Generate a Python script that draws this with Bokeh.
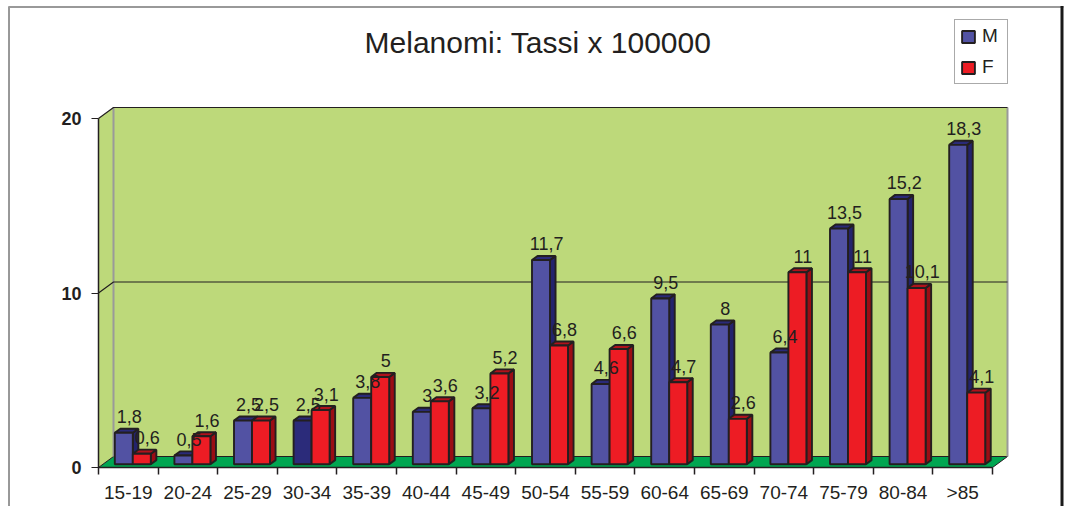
import numpy as np
from bokeh.plotting import figure
from bokeh.models import Range1d, FixedTicker, Label, Legend, LegendItem
from bokeh.core.properties import value
from bokeh.embed import file_html
from bokeh.resources import INLINE

# ---- data ----
categories = ["15-19", "20-24", "25-29", "30-34", "35-39", "40-44", "45-49", "50-54",
              "55-59", "60-64", "65-69", "70-74", "75-79", "80-84", ">85"]
male = [1.8, 0.5, 2.5, 2.5, 3.8, 3, 3.2, 11.7, 4.6, 9.5, 8, 6.4, 13.5, 15.2, 18.3]
female = [0.6, 1.6, 2.5, 3.1, 5, 3.6, 5.2, 6.8, 6.6, 4.7, 2.6, 11, 11, 10.1, 4.1]
series_names = ["M", "F"]
y_ticks = [0, 10, 20]
title_text = "Melanomi: Tassi x 100000"

# ---- styles ----
FONT = "Liberation Sans"
DARK = "#231F20"
WALL = "#BDD97A"
FLOOR = "#00A651"
M_FRONT = ["#5252A3"] * len(categories)
M_FRONT[3] = "#2B2B7A"
M_TOP, M_SIDE = "#2A2A78", "#23236C"
F_FRONT, F_TOP, F_SIDE = "#ED1C24", "#B0121B", "#9B0D14"

W, H = 1067, 506
PX, PY = 59.6, 17.45          # pixels per category / per unit
LEFT_PX, ZERO_PX = 98, 467    # canvas position of the front-left corner / zero line
DX, DY = 15 / PX, 11 / PY     # depth of the 3D box in data units
D0, D1 = 0.30, 0.67           # bar depth (front / back fraction)
BW = 0.302                    # bar width
n = len(categories)
x0, x1 = -0.5, n - 0.5
ymax = max(y_ticks)

xs0 = x0 - LEFT_PX / PX
ys0 = -(H - ZERO_PX) / PY


def sx(px):
    return xs0 + px / PX


def sy(py):
    return ys0 + (H - py) / PY


p = figure(width=W, height=H, output_backend="svg", toolbar_location=None,
           x_range=Range1d(xs0, sx(W)), y_range=Range1d(ys0, sy(0)),
           min_border=0)
p.outline_line_color = None
p.xgrid.visible = False
p.ygrid.visible = False
p.background_fill_color = "white"

# outer frame of the chart area
p.line([sx(8.5), sx(8.5)], [sy(H), sy(6)], line_color="#333333", line_width=1)
p.line([sx(8), sx(1063)], [sy(6.5), sy(6.5)], line_color="#999999", line_width=2)
p.line([sx(1061.5), sx(1061.5)], [sy(H), sy(5.5)], line_color="#1a1a1a", line_width=3)

# walls and floor
p.quad(left=x0 + DX, right=x1 + DX, bottom=DY, top=ymax + DY, fill_color=WALL, line_color=None)
p.patch([x0, x0, x0 + DX, x0 + DX], [0, ymax, ymax + DY, DY], fill_color=WALL, line_color=None)
p.patch([x0, x1, x1 + DX, x0 + DX], [0, 0, DY, DY], fill_color=FLOOR, line_color=DARK, line_width=1)
p.segment(x0=[x0 + DX, x1 + DX], y0=[DY, DY], x1=[x0 + DX, x1 + DX], y1=[ymax + DY, ymax + DY],
          line_color="#9a9a9a", line_width=2)
for t in y_ticks[1:]:
    p.line([x0, x0 + DX, x1 + DX], [t, t + DY, t + DY], line_color=DARK, line_width=1.2)

# bars
idx = np.arange(n)
ox, oy = D0 * DX, D0 * DY
bdx, bdy = (D1 - D0) * DX, (D1 - D0) * DY
centers = idx + ox
renderers = []
for vals, off, front, top_c, side_c in [(male, -BW, M_FRONT, M_TOP, M_SIDE),
                                        (female, 0.0, F_FRONT, F_TOP, F_SIDE)]:
    v = np.array(vals, dtype=float)
    l = centers + off
    r = l + BW
    t = v + oy
    side_xs = [[ri, ri, ri + bdx, ri + bdx] for ri in r]
    side_ys = [[oy, ti, ti + bdy, oy + bdy] for ti in t]
    top_xs = [[li, ri, ri + bdx, li + bdx] for li, ri in zip(l, r)]
    top_ys = [[ti, ti, ti + bdy, ti + bdy] for ti in t]
    p.patches(side_xs, side_ys, fill_color=side_c, line_color=DARK, line_width=1.9)
    p.patches(top_xs, top_ys, fill_color=top_c, line_color=DARK, line_width=1.9)
    rr = p.quad(left=l, right=r, bottom=oy, top=t, fill_color=front, line_color=DARK, line_width=1.9)
    renderers.append(rr)

# value labels
def fmt(x):
    return str(int(x)) if float(x).is_integer() else str(x).replace(".", ",")

for vals, off in [(male, -BW), (female, 0.0)]:
    v = np.array(vals, dtype=float)
    lx = centers + off + BW / 2 + bdx
    ly = v + oy + bdy + 12 / PY
    p.text(x=lx, y=ly, text=[fmt(x) for x in vals], text_align="center", text_baseline="alphabetic",
           text_font=value(FONT), text_font_size="18px", text_color=DARK)

# axes
ya = p.yaxis[0]
ya.ticker = FixedTicker(ticks=y_ticks)
ya.bounds = (0, ymax)
ya.fixed_location = x0
ya.axis_line_color = DARK
ya.axis_line_width = 1.5
ya.major_tick_out = 7
ya.major_tick_in = 0
ya.major_tick_line_color = DARK
ya.minor_tick_line_color = None
ya.major_label_text_font = FONT
ya.major_label_text_font_style = "bold"
ya.major_label_text_font_size = "18px"
ya.major_label_text_color = DARK
ya.major_label_standoff = 10

xa = p.xaxis[0]
xa.ticker = FixedTicker(ticks=list(range(n)), minor_ticks=[i - 0.5 for i in range(n + 1)])
xa.major_label_overrides = {i: c for i, c in enumerate(categories)}
xa.bounds = (x0, x1)
xa.fixed_location = 0
xa.axis_line_color = DARK
xa.axis_line_width = 1.5
xa.major_tick_line_color = None
xa.major_tick_out = 7
xa.minor_tick_out = 7
xa.minor_tick_in = 0
xa.minor_tick_line_color = DARK
xa.minor_tick_line_width = 1.5
xa.major_label_text_font = FONT
xa.major_label_text_font_size = "19px"
xa.major_label_text_color = DARK
xa.major_label_standoff = 7

# title
p.add_layout(Label(x=537.5, y=H - 42, x_units="screen", y_units="screen", text=title_text,
                   text_align="center", text_baseline="alphabetic", text_font=FONT,
                   text_font_size="30px", text_color=DARK))

# legend
legend = Legend(items=[LegendItem(label=series_names[0], renderers=[renderers[0]], index=0),
                       LegendItem(label=series_names[1], renderers=[renderers[1]], index=0)],
                location=(954, H - 84), padding=5, spacing=9, glyph_width=16, glyph_height=15,
                label_height=20, label_standoff=6, label_text_font=FONT, label_text_font_size="19px",
                label_text_color=DARK, border_line_color="#555555", border_line_width=1,
                background_fill_color="white", margin=0)
p.add_layout(legend)

open("out.html", "w").write(file_html(p, INLINE))
